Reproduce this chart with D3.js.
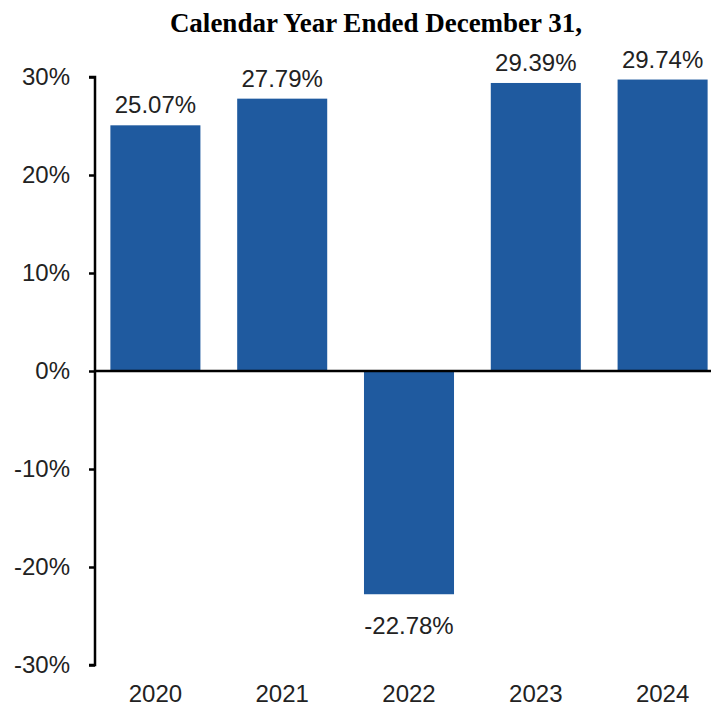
<!DOCTYPE html>
<html><head><meta charset="utf-8">
<script src="https://cdn.jsdelivr.net/npm/d3@7"></script>
<style>body{margin:0;background:#fff}</style>
</head><body>
<svg id="c" width="719" height="709"></svg>
<script>
const years = ["2020","2021","2022","2023","2024"];
const returns = [25.07, 27.79, -22.78, 29.39, 29.74];
const yTicks = [30, 20, 10, 0, -10, -20, -30];
const title = "Calendar Year Ended December 31,";

const svg = d3.select("#c");
const x = d3.scaleBand().domain(years).range([92, 726]).paddingInner(0.29).paddingOuter(0.145);
const y = d3.scaleLinear().domain([-30, 30]).range([665, 77]);

svg.append("text").attr("x", 376).attr("y", 32).attr("text-anchor", "middle")
  .attr("font-family", "Liberation Serif, Times New Roman, serif").attr("font-weight", "bold")
  .attr("font-size", 27).attr("fill", "#000").text(title);

svg.selectAll("rect.bar").data(years).join("rect").attr("class", "bar")
  .attr("x", d => x(d)).attr("width", x.bandwidth())
  .attr("y", (d, i) => y(Math.max(0, returns[i])))
  .attr("height", (d, i) => Math.abs(y(returns[i]) - y(0)))
  .attr("fill", "#1f5a9f");

svg.selectAll("text.val").data(years).join("text").attr("class", "val")
  .attr("x", d => x(d) + x.bandwidth() / 2)
  .attr("y", (d, i) => returns[i] >= 0 ? y(returns[i]) - 12 : y(returns[i]) + 40)
  .attr("text-anchor", "middle").attr("font-family", "Liberation Sans, Arial, sans-serif")
  .attr("font-size", 24).attr("fill", "#222")
  .text((d, i) => returns[i].toFixed(2) + "%");

const yAxis = d3.axisLeft(y).tickValues(yTicks).tickSize(6).tickPadding(19).tickFormat(d => d + "%");
const ya = svg.append("g").attr("transform", "translate(95,0)").call(yAxis);
ya.select(".domain").attr("stroke", "#000").attr("stroke-width", 2.5).attr("d", "M-6,77H0V665H-6");
ya.selectAll(".tick line").attr("stroke", "#000").attr("stroke-width", 2.5);
ya.selectAll(".tick text").attr("font-family", "Liberation Sans, Arial, sans-serif").attr("font-size", 24).attr("fill", "#222");

svg.append("line").attr("x1", 95).attr("x2", 711).attr("y1", y(0)).attr("y2", y(0))
  .attr("stroke", "#000").attr("stroke-width", 2.5);

svg.selectAll("text.xl").data(years).join("text").attr("class", "xl")
  .attr("x", d => x(d) + x.bandwidth() / 2).attr("y", 702)
  .attr("text-anchor", "middle").attr("font-family", "Liberation Sans, Arial, sans-serif")
  .attr("font-size", 24).attr("fill", "#222").text(d => d);
</script>
</body></html>
